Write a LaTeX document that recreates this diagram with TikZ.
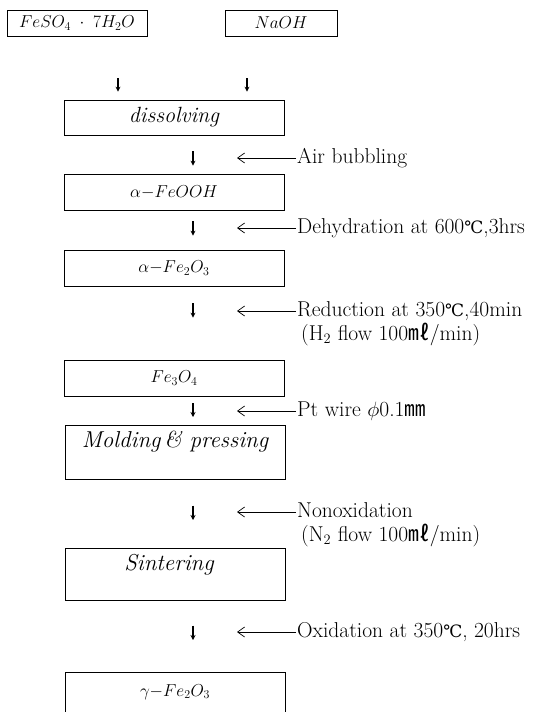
\documentclass[tikz,border=0pt]{standalone}
\usepackage{fontspec}
\usepackage{tikz}
\usetikzlibrary{arrows.meta,positioning,calc}
\newfontfamily\cjk{Noto Sans CJK JP}
\newfontfamily\symb{DejaVu Serif}
\newcommand{\degc}{{\symb\fontsize{17}{20}\selectfont ℃}}
\newcommand{\mlit}{{\cjk ㎖}}
\newcommand{\mmet}{{\cjk ㎜}}
\tikzset{
  material/.style={
    rectangle, draw=black, line width=0.7pt,
    minimum width=220pt, minimum height=36pt, inner sep=0pt,
    font=\fontsize{18}{21}\selectfont, align=center
  },
  source/.style={
    material, minimum height=26pt
  },
  process/.style={
    material, font=\fontsize{23}{26}\selectfont\itshape
  },
  note/.style={
    anchor=west, inner sep=1pt, text height=15pt, text depth=5pt,
    font=\fontsize{21.5}{25}\selectfont
  },
  down/.style={-{Stealth[length=5pt,width=5pt]}, line width=1.1pt},
  feed/.style={-{Straight Barb[length=7pt,width=10pt]}, line width=0.7pt},
}

\begin{document}
\begin{tikzpicture}[x=1pt,y=-1pt]
  \useasboundingbox (0,0) rectangle (535,712);
  \clip (0,0) rectangle (535,712);

  % Starting materials
  \node[source, minimum width=140pt] (feso) at (77,23) {$FeSO_4\;\cdot\;7H_2O$};
  \node[source, minimum width=112pt] (naoh) at (281,23) {$NaOH$};

  % Process column
  \node[process, minimum height=35pt, font=\fontsize{22}{25}\selectfont\itshape]
        (dis) at (174,117.5) {dissolving};
  \node[material] (feooh) at (174,192) {$\alpha{-}FeOOH$};
  \node[material] (hem)   at (174,268) {$\alpha{-}Fe_2O_3$};
  \node[material] (mag)   at (174,378) {$Fe_3O_4$};
  \node[process, anchor=north, text height=22pt, text depth=32pt]
        (mold) at (175,425) {Molding\,\& pressing};
  \node[process, anchor=north, text height=22pt, text depth=30pt]
        (sint) at (175,548) {\hspace*{-12pt}Sintering};
  \node[material, anchor=north, text height=24pt, text depth=24pt]
        (gam) at (175,672) {$\gamma{-}Fe_2O_3$};

  % Conditions
  \node[note] (air)   at (296,158) {Air bubbling};
  \node[note] (dehyd) at (296,228) {Dehydration at 600\degc,3hrs};
  \node[note] (red)   at (296,311) {Reduction at 350\degc,40min};
  \node[note, below=2pt of red.south west, anchor=north west,
        xshift=4pt] (redgas) {(H$_2$ flow 100\mlit/min)};
  \node[note] (wire)  at (296,411) {Pt wire $\phi$0.1\mmet};
  \node[note] (nonox) at (296,512) {Nonoxidation};
  \node[note, below=2pt of nonox.south west, anchor=north west,
        xshift=4pt] (nitro) {(N$_2$ flow 100\mlit/min)};
  \node[note] (oxid)  at (296,632) {Oxidation at 350\degc, 20hrs};

  % Arrow columns
  \coordinate (colA) at (118,0);
  \coordinate (colB) at (247,0);
  \coordinate (col)  at (193,0);
  \coordinate (tip)  at (237,0);

  % Flow arrows
  \draw[down, shorten <=42pt, shorten >=8pt] (feso.south -| colA) -- (dis.north -| colA);
  \draw[down, shorten <=42pt, shorten >=8pt] (naoh.south -| colB) -- (dis.north -| colB);
  \draw[down, shorten <=16pt, shorten >=8pt]  (dis.south -| col)   -- (feooh.north -| col);
  \draw[down, shorten <=11pt, shorten >=14pt] (feooh.south -| col) -- (hem.north -| col);
  \draw[down, shorten <=17pt, shorten >=42pt] (hem.south -| col)   -- (mag.north -| col);
  \draw[down, shorten <=7pt,  shorten >=8pt]  (mag.south -| col)   -- (mold.north -| col);
  \draw[down, shorten <=26pt, shorten >=28pt] (mold.south -| col)  -- (sint.north -| col);
  \draw[down, shorten <=25pt, shorten >=32pt] (sint.south -| col)  -- (gam.north -| col);

  % Condition arrows
  \foreach \cond in {air,dehyd,red,wire,nonox,oxid}
    \draw[feed] (\cond.west) -- (tip |- \cond.west);

\end{tikzpicture}
\end{document}
